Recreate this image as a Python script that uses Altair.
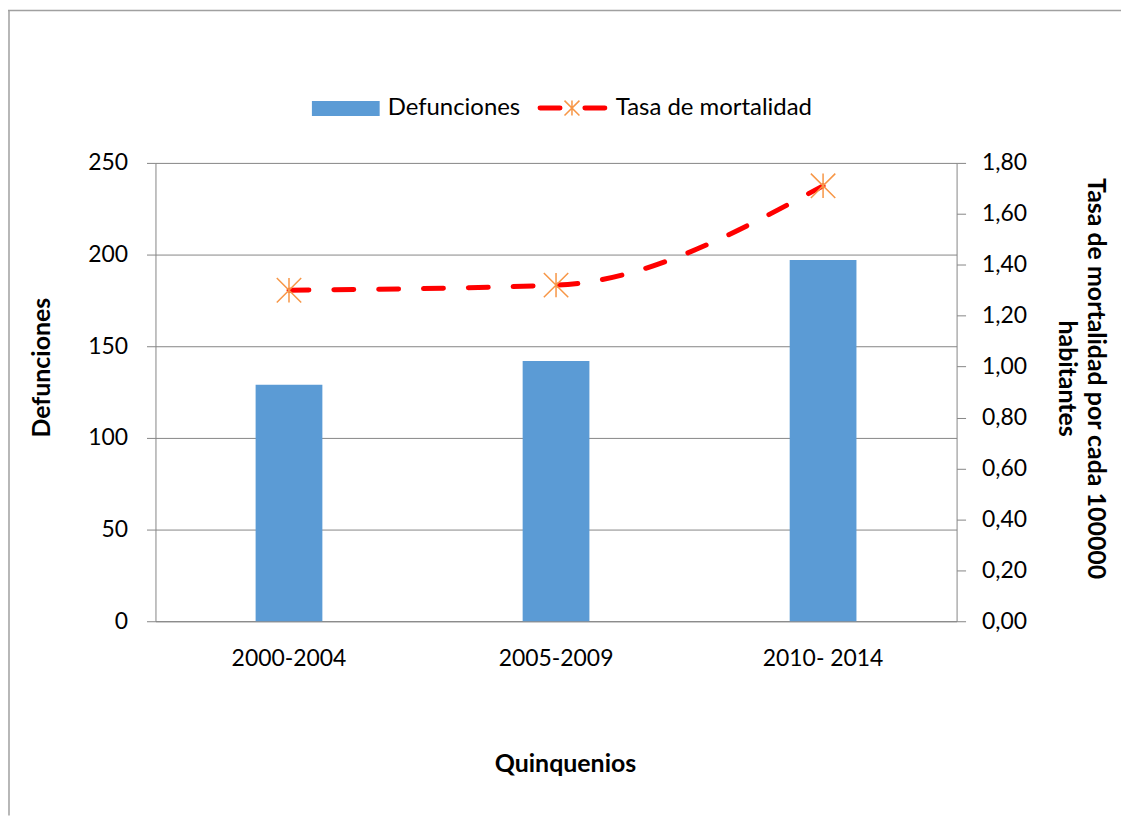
import altair as alt
import pandas as pd

# ---- data ----
quinquenios = ["2000-2004", "2005-2009", "2010- 2014"]
defunciones = [129, 142, 197]
tasa = [1.30, 1.32, 1.71]

left_ticks = [0, 50, 100, 150, 200, 250]
right_ticks = [0.0, 0.2, 0.4, 0.6, 0.8, 1.0, 1.2, 1.4, 1.6, 1.8]

df = pd.DataFrame({"Quinquenio": quinquenios, "Defunciones": defunciones, "Tasa": tasa})
one = pd.DataFrame({"k": [0]})

FONT = "Lato"
GRAY = "#868686"
BLUE = "#5B9BD5"
RED = "#FF0000"
ORANGE = "#F79646"
STAR = "M-1,-1L1,1M-1,1L1,-1M0,-1L0,1"

W, H = 804, 460
LABEL_FS = 23
TITLE_FS = 25
LEG_FS = 24

x = alt.X(
    "Quinquenio:N",
    sort=quinquenios,
    scale=alt.Scale(paddingInner=0, paddingOuter=0),
    axis=alt.Axis(
        title="Quinquenios",
        titleX=411, titleY=143, titleBaseline="middle", titleAlign="center",
        labelAngle=0, ticks=False, tickSize=0, labelPadding=37,
        labelBaseline="middle", domainColor=GRAY,
    ),
)

bars = alt.Chart(df).mark_bar(color=BLUE, size=67).encode(
    x=x,
    y=alt.Y(
        "Defunciones:Q",
        scale=alt.Scale(domain=[0, 250], nice=False),
        axis=alt.Axis(
            title="Defunciones", values=left_ticks, grid=True, gridColor=GRAY,
            domainColor=GRAY, tickColor=GRAY, tickSize=9, labelPadding=19,
            titleX=-114, titleY=205, titleBaseline="middle", titleAlign="center",
        ),
    ),
)

y_right = alt.Y(
    "Tasa:Q",
    scale=alt.Scale(domain=[0, 1.8], nice=False),
    axis=alt.Axis(
        orient="right",
        title=["Tasa de mortalidad por cada 100000", "habitantes"],
        values=right_ticks, grid=False, domainColor=GRAY, tickColor=GRAY,
        tickSize=9, labelPadding=16,
        labelExpr="replace(format(datum.value, '.2f'), '.', ',')",
        titleAngle=90, titleX=139, titleY=216, titleBaseline="middle",
        titleAlign="center", titleLineHeight=29,
    ),
)

line = alt.Chart(df).mark_line(
    color=RED, strokeWidth=5, strokeDash=[20, 25], strokeCap="round",
    interpolate="monotone",
).encode(x=x, y=y_right)

points = alt.Chart(df).mark_point(
    shape=STAR, size=600, stroke=ORANGE, strokeWidth=1.5, filled=False, opacity=1,
).encode(x=x, y=y_right)

rate_layer = alt.layer(line, points)

# ---- manual legend (top) ----
LEG_Y = -55
leg_rect = alt.Chart(one).mark_rect(color=BLUE).encode(
    x=alt.value(157), x2=alt.value(225), y=alt.value(-62), y2=alt.value(-47)
)
leg_t1 = alt.Chart(one).mark_text(
    text="Defunciones", align="left", baseline="middle", font=FONT, fontSize=LEG_FS, color="black"
).encode(x=alt.value(233), y=alt.value(LEG_Y))
leg_line = alt.Chart(one).mark_rule(
    color=RED, strokeWidth=5, strokeDash=[20, 25], strokeCap="round"
).encode(x=alt.value(386), x2=alt.value(452), y=alt.value(LEG_Y))
leg_star = alt.Chart(one).mark_point(
    shape=STAR, size=225, stroke=ORANGE, strokeWidth=1.5, filled=False, opacity=1
).encode(x=alt.value(418), y=alt.value(LEG_Y))
leg_t2 = alt.Chart(one).mark_text(
    text="Tasa de mortalidad", align="left", baseline="middle", font=FONT, fontSize=LEG_FS, color="black"
).encode(x=alt.value(462), y=alt.value(LEG_Y))

# ---- outer frame (top and left edges) ----
frame_top = alt.Chart(one).mark_rule(color="#A0A0A0", strokeWidth=1.5).encode(
    x=alt.value(-148), x2=alt.value(W + 165), y=alt.value(-153)
)
frame_left = alt.Chart(one).mark_rule(color="#A0A0A0", strokeWidth=1.5).encode(
    x=alt.value(-147), y=alt.value(-153), y2=alt.value(H + 195)
)

main = alt.layer(bars, rate_layer).resolve_scale(y="independent")

chart = alt.layer(
    main, leg_rect, leg_t1, leg_line, leg_star, leg_t2, frame_top, frame_left
).properties(
    width=W, height=H,
    autosize=alt.AutoSizeParams(type="none"),
    padding={"left": 148, "top": 154, "right": 165, "bottom": 195},
).configure(
    font=FONT,
).configure_axis(
    labelFont=FONT, labelFontSize=LABEL_FS, labelColor="black",
    titleFont=FONT, titleFontSize=TITLE_FS, titleFontWeight="bold", titleColor="black",
    gridColor=GRAY, gridWidth=1, domainWidth=1, tickWidth=1,
).configure_view(stroke=None)

chart.save("out.html", embed_options={"renderer": "svg", "actions": False})
